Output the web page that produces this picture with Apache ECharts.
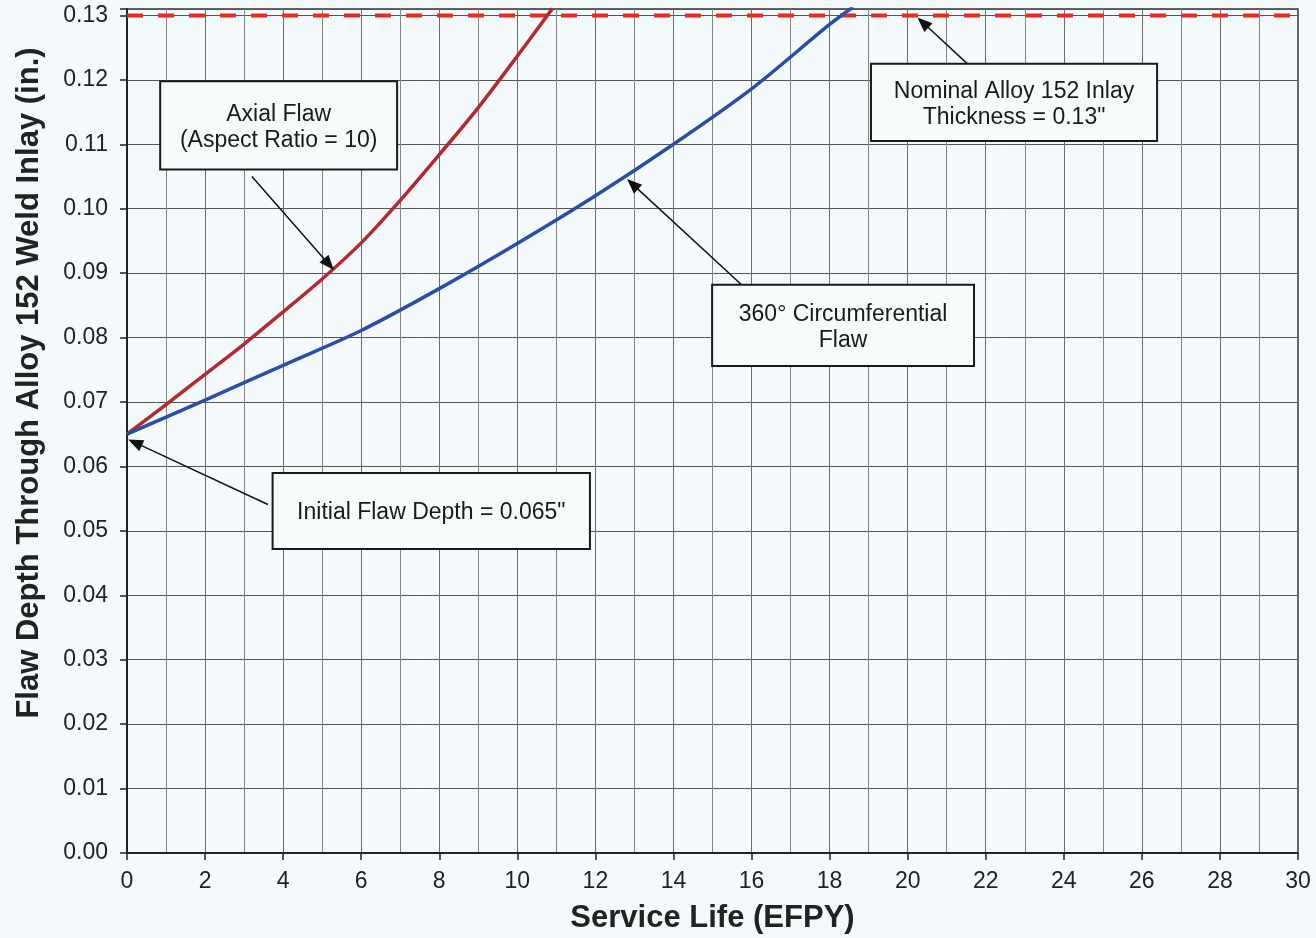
<!DOCTYPE html>
<html>
<head>
<meta charset="utf-8">
<script src="https://cdn.jsdelivr.net/npm/echarts@6/dist/echarts.min.js"></script>
<style>
  html, body { margin: 0; padding: 0; background: #f4fafb; }
  #chart { width: 1316px; height: 938px; }
</style>
</head>
<body>
<div id="chart"></div>
<script>
// Crack growth through the Alloy 152 weld inlay
const axialYears  = [0, 1, 2, 3, 4, 5, 6, 7, 8, 9, 10, 10.9];
const axialDepth  = [0.065, 0.0696, 0.0743, 0.0790, 0.0840, 0.0891, 0.0947, 0.1013, 0.1084, 0.1157, 0.1237, 0.1311];

const circYears   = [0, 2, 4, 6, 8, 10, 12, 14, 16, 18, 18.6];
const circDepth   = [0.065, 0.0703, 0.0757, 0.0811, 0.0876, 0.0946, 0.1020, 0.1100, 0.1186, 0.1286, 0.1313];

const inlayThickness = 0.13;
const lifeRange = [0, 30];

const xTitle = 'Service Life (EFPY)';
const yTitle = 'Flaw Depth Through Alloy 152 Weld Inlay (in.)';

// Callout boxes (data coordinates) with leader arrows
const callouts = [
  { text: ['Axial Flaw', '(Aspect Ratio = 10)'], box: [0.85, 0.1198, 6.92, 0.1061], tail: [3.2, 0.1050], tip: [5.3, 0.0905] },
  { text: ['Nominal Alloy 152 Inlay', 'Thickness = 0.13"'], box: [19.06, 0.1225, 26.39, 0.1105], tail: [21.67, 0.1217], tip: [20.25, 0.1297] },
  { text: ['360\u00b0 Circumferential', 'Flaw'], box: [14.99, 0.0882, 21.70, 0.0756], tail: [15.96, 0.0870], tip: [12.81, 0.1046] },
  { text: ['Initial Flaw Depth = 0.065"'], box: [3.73, 0.0590, 11.86, 0.0472], tail: [3.61, 0.0541], tip: [0.03, 0.0642] }
];

const pairs = (xs, ys) => xs.map((x, i) => [x, ys[i]]);

const chart = echarts.init(document.getElementById('chart'), null, { renderer: 'canvas' });

const font = "'Liberation Sans', Arial, Helvetica, sans-serif";

chart.setOption({
  backgroundColor: '#f4fafb',
  animation: false,
  textStyle: { fontFamily: font },
  grid: {
    left: 127, right: 18, top: 9, bottom: 85,
    outerBoundsMode: 'none', containLabel: false,
    show: true, borderColor: '#333', borderWidth: 1.5, backgroundColor: 'transparent'
  },
  xAxis: {
    type: 'value',
    min: lifeRange[0], max: lifeRange[1], interval: 2,
    name: xTitle, nameLocation: 'middle', nameGap: 50,
    nameTextStyle: { fontFamily: font, fontSize: 31, fontWeight: 'bold', color: '#222' },
    axisLine: { show: true, onZero: false, lineStyle: { color: '#222', width: 2 } },
    axisTick: { show: true, length: 7, lineStyle: { color: '#222', width: 1.5 } },
    axisLabel: { fontFamily: font, fontSize: 23, color: '#222', margin: 17 },
    splitLine: { show: true, lineStyle: { color: '#6a6a6a', width: 1 } },
    minorTick: { show: false, splitNumber: 2 },
    minorSplitLine: { show: true, lineStyle: { color: '#848484', width: 1 } }
  },
  yAxis: {
    type: 'value',
    min: 0, max: 0.131, interval: 0.01,
    name: yTitle, nameLocation: 'middle', nameGap: 82, nameRotate: 90,
    nameTextStyle: { fontFamily: font, fontSize: 31, fontWeight: 'bold', color: '#222', padding: [0, 0, 0, 96] },
    axisLine: { show: true, lineStyle: { color: '#222', width: 2 } },
    axisTick: { show: true, length: 7, lineStyle: { color: '#222', width: 1.5 } },
    axisLabel: {
      fontFamily: font, fontSize: 23, color: '#222', margin: 19,
      formatter: v => (Math.abs(v * 100 - Math.round(v * 100)) < 1e-6 ? v.toFixed(2) : '')
    },
    splitLine: { show: true, lineStyle: { color: '#555', width: 1 } }
  },
  series: [
    {
      name: 'Nominal inlay thickness',
      type: 'line',
      data: pairs(lifeRange, [inlayThickness, inlayThickness]),
      symbol: 'none',
      lineStyle: { color: '#e62b22', width: 4, type: [16, 15] },
      z: 3
    },
    {
      name: 'Axial Flaw',
      type: 'line',
      data: pairs(axialYears, axialDepth),
      smooth: 0.3,
      symbol: 'none',
      lineStyle: { color: '#b7282e', width: 3.5 },
      z: 4
    },
    {
      name: '360\u00b0 Circumferential Flaw',
      type: 'line',
      data: pairs(circYears, circDepth),
      smooth: 0.3,
      symbol: 'none',
      lineStyle: { color: '#2a4ea8', width: 3.5 },
      z: 4
    }
  ]
});

// Callout boxes and arrows, placed through the grid's coordinate system
function buildCallouts() {
  const els = [];
  const toPx = p => chart.convertToPixel({ gridIndex: 0 }, p);
  callouts.forEach(c => {
    const a = toPx([c.box[0], c.box[1]]);
    const b = toPx([c.box[2], c.box[3]]);
    const tail = toPx(c.tail);
    const tip = toPx(c.tip);
    const dx = tip[0] - tail[0], dy = tip[1] - tail[1];
    const len = Math.hypot(dx, dy);
    const ux = dx / len, uy = dy / len;
    const headLen = 15, headHalf = 6;
    const baseX = tip[0] - ux * headLen, baseY = tip[1] - uy * headLen;
    els.push({
      type: 'line', z: 20,
      shape: { x1: tail[0], y1: tail[1], x2: baseX + ux * 2, y2: baseY + uy * 2 },
      style: { stroke: '#111', lineWidth: 1.5 }
    });
    els.push({
      type: 'polygon', z: 20,
      shape: { points: [
        [tip[0], tip[1]],
        [baseX - uy * headHalf, baseY + ux * headHalf],
        [baseX + uy * headHalf, baseY - ux * headHalf]
      ] },
      style: { fill: '#111' }
    });
    const x = Math.min(a[0], b[0]), y = Math.min(a[1], b[1]);
    const w = Math.abs(b[0] - a[0]), h = Math.abs(b[1] - a[1]);
    els.push({
      type: 'rect', z: 21,
      shape: { x: x, y: y, width: w, height: h },
      style: { fill: '#f6fbfc', stroke: '#1a1a1a', lineWidth: 2 }
    });
    const lineH = 26;
    const cy = y + h / 2 + 2;
    c.text.forEach((t, i) => {
      els.push({
        type: 'text', z: 22,
        x: x + w / 2,
        y: cy + (i - (c.text.length - 1) / 2) * lineH,
        style: {
          text: t, fill: '#1a1a1a', font: '23px ' + font,
          align: 'center', verticalAlign: 'middle'
        }
      });
    });
  });
  chart.setOption({ graphic: { elements: els } });
}
buildCallouts();
</script>
</body>
</html>
